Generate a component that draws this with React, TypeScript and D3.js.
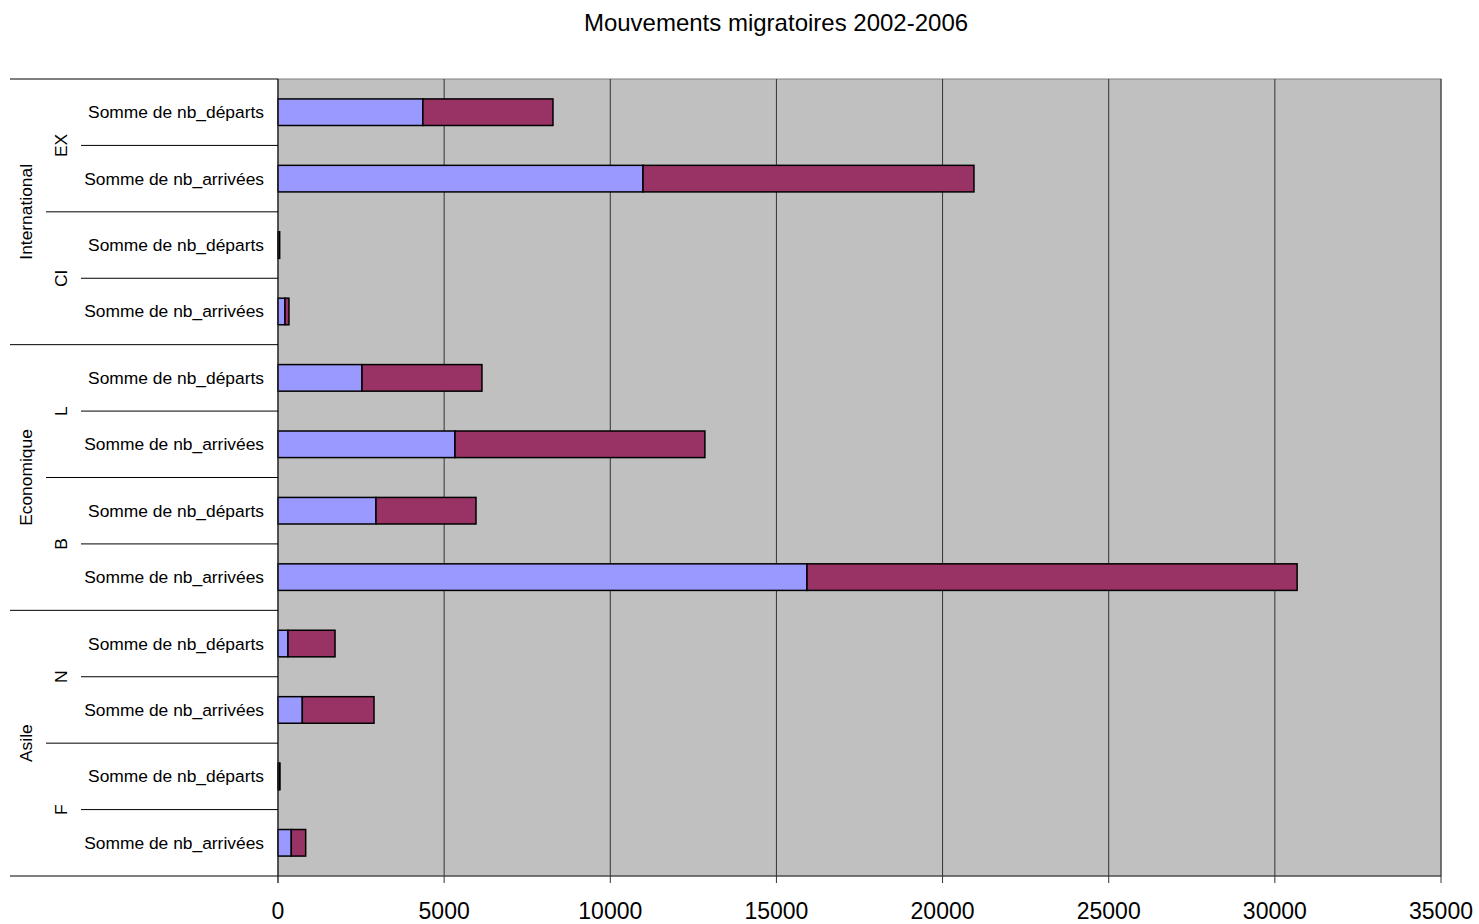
import React from "react";
import * as d3 from "d3";

const groups = ["International", "Economique", "Asile"];
const subgroups = [
  { group: "International", name: "EX" },
  { group: "International", name: "CI" },
  { group: "Economique", name: "L" },
  { group: "Economique", name: "B" },
  { group: "Asile", name: "N" },
  { group: "Asile", name: "F" },
];
const measures = ["Somme de nb_départs", "Somme de nb_arrivées"];
// rows in top-to-bottom order: each subgroup x measure
const series1 = [4360, 10985, 30, 210, 2528, 5327, 2949, 15920, 301, 732, 35, 400];
const series2 = [3915, 9960, 20, 120, 3610, 7520, 3010, 14750, 1415, 2157, 25, 433];
const xTicks = [0, 5000, 10000, 15000, 20000, 25000, 30000, 35000];
const title = "Mouvements migratoires 2002-2006";

const W = 1479, H = 924;
const left = 278, right = 1441, top = 79, bottom = 876;
const font = "Arial, 'Liberation Sans', sans-serif";

export default function App() {
  const rows = subgroups.flatMap((s) => measures.map((m) => ({ sub: s.name, group: s.group, label: m })));
  const keys = rows.map((_, i) => String(i));
  const x = d3.scaleLinear().domain([0, 35000]).range([left, right]);
  const y = d3.scaleBand().domain(keys).range([top, bottom]).paddingInner(0.6).paddingOuter(0.3);
  const step = y.step();
  const rowTop = (i: number) => top + i * step;

  const separators: { y: number; x1: number }[] = [];
  for (let i = 0; i <= rows.length; i++) {
    let x1 = 81;
    if (i === 0 || i === rows.length) x1 = 10;
    else if (rows[i].group !== rows[i - 1].group) x1 = 10;
    else if (rows[i].sub !== rows[i - 1].sub) x1 = 46;
    separators.push({ y: rowTop(i), x1 });
  }

  return (
    <svg width={W} height={H} style={{ position: "absolute", left: 0, top: 0 }} fontFamily={font}>
      <rect x={0} y={0} width={W} height={H} fill="#fff" />
      <text x={776} y={31} textAnchor="middle" fontSize={24} fill="#000">{title}</text>
      <rect x={left} y={top} width={right - left} height={bottom - top} fill="#C0C0C0" stroke="#808080" />
      {xTicks.map((t) => (
        <line key={"g" + t} x1={x(t)} x2={x(t)} y1={top} y2={bottom} stroke="#333" strokeWidth={1} />
      ))}
      {rows.map((r, i) => {
        const yy = y(String(i))!;
        return (
          <g key={"b" + i}>
            <rect x={x(0)} y={yy} width={x(series1[i]) - x(0)} height={y.bandwidth()} fill="#9999FF" stroke="#000" strokeWidth={1.5} />
            <rect x={x(series1[i])} y={yy} width={x(series1[i] + series2[i]) - x(series1[i])} height={y.bandwidth()} fill="#993366" stroke="#000" strokeWidth={1.5} />
          </g>
        );
      })}
      {/* axes */}
      <line x1={left} x2={left} y1={top} y2={bottom + 7} stroke="#333" />
      <line x1={left} x2={right} y1={bottom} y2={bottom} stroke="#333" />
      {xTicks.map((t) => (
        <g key={"t" + t}>
          <line x1={x(t)} x2={x(t)} y1={bottom} y2={bottom + 7} stroke="#333" />
          <text x={x(t)} y={919} textAnchor="middle" fontSize={23} fill="#000">{t}</text>
        </g>
      ))}
      {separators.map((s, i) => (
        <line key={"s" + i} x1={s.x1} x2={left} y1={s.y} y2={s.y} stroke="#000" />
      ))}
      {rows.map((r, i) => (
        <text key={"l" + i} x={264} y={y(String(i))! + y.bandwidth() / 2 + 6} textAnchor="end" fontSize={17.4} fill="#000">{r.label}</text>
      ))}
      {subgroups.map((s, i) => {
        const cy = rowTop(i * 2 + 1);
        return (
          <text key={"sg" + i} transform={`translate(${67},${cy}) rotate(-90)`} textAnchor="middle" fontSize={17.4} fill="#000">{s.name}</text>
        );
      })}
      {groups.map((g, i) => {
        const cy = rowTop(i * 4 + 2);
        return (
          <text key={"gr" + i} transform={`translate(${32},${cy}) rotate(-90)`} textAnchor="middle" fontSize={17.4} fill="#000">{g}</text>
        );
      })}
    </svg>
  );
}
